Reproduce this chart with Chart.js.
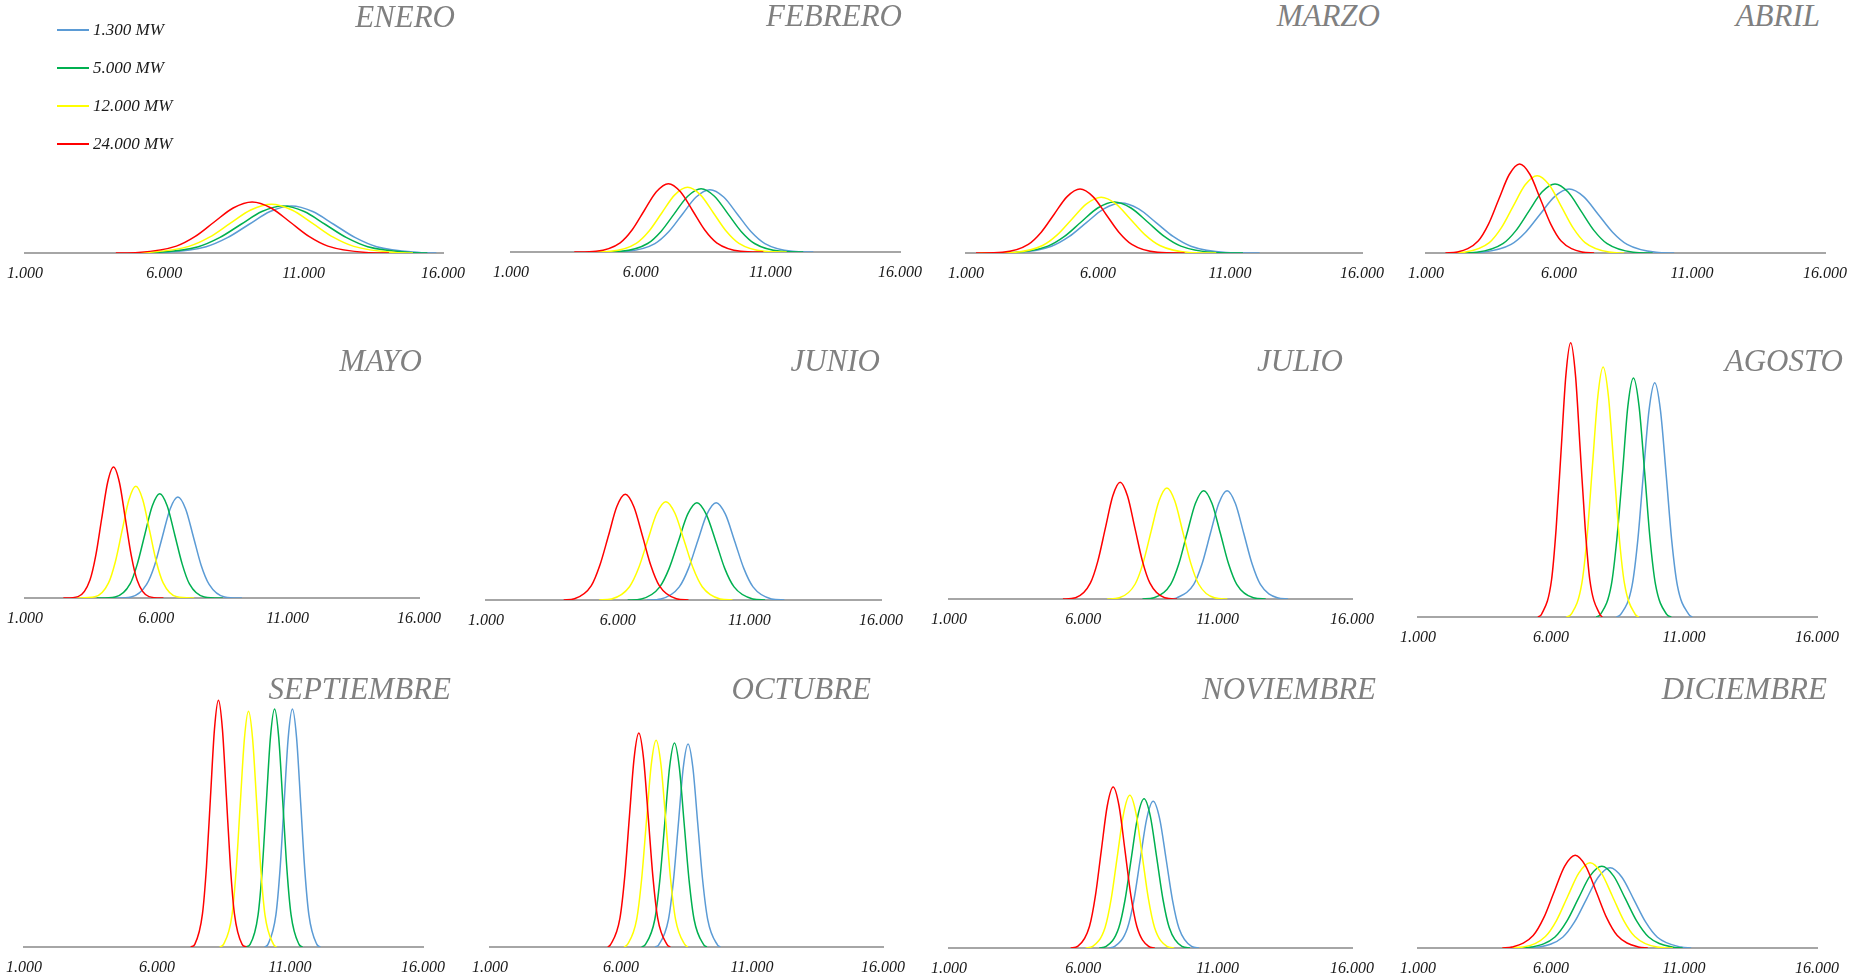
<!DOCTYPE html>
<html>
<head>
<meta charset="utf-8">
<script src="https://cdn.jsdelivr.net/npm/chart.js@4.4.1/dist/chart.umd.min.js"></script>
<style>
  html, body { margin: 0; padding: 0; overflow: hidden; background: #fff; }
  #wrap { position: relative; width: 1849px; height: 978px; }
  #wrap canvas { position: absolute; }
  .title { position: absolute; font: italic 31px 'Liberation Serif', serif; color: #808080; line-height: 1; white-space: nowrap; }
  .legend { position: absolute; left: 57px; font: italic 17px 'Liberation Serif', serif; color: #1a1a1a; display: flex; align-items: center; height: 20px; white-space: nowrap; }
  .legend span { display: inline-block; width: 32px; height: 2px; margin-right: 4px; }
</style>
</head>
<body>
<div id="wrap"></div>
<script>
const seriesNames = ['1.300 MW', '5.000 MW', '12.000 MW', '24.000 MW'];
const seriesColors = ['#5b9bd5', '#00b050', '#ffff00', '#ff0000'];
const monthNames = ['ENERO', 'FEBRERO', 'MARZO', 'ABRIL', 'MAYO', 'JUNIO', 'JULIO', 'AGOSTO',
                    'SEPTIEMBRE', 'OCTUBRE', 'NOVIEMBRE', 'DICIEMBRE'];
const xTicks = [1000, 6000, 11000, 16000];
const xTickLabels = ['1.000', '6.000', '11.000', '16.000'];

const enero = [
  [[5120,0],[5970,0.5],[7500,6.3],[8265,15.3],[9030,28.5],[9795,41.5],[10560,47],[11325,41.5],[12090,28.5],[12855,15.3],[13620,6.3],[15150,0.5],[15760,0]],
  [[5000,0],[5700,0.5],[7220,6.3],[7980,15.3],[8740,28.5],[9500,41.5],[10260,47],[11020,41.5],[11780,28.5],[12540,15.3],[13300,6.3],[14820,0.5],[15440,0]],
  [[4880,0],[5400,0.5],[6880,6.6],[7620,15.8],[8360,29.6],[9100,43],[9840,48.7],[10580,43],[11320,29.6],[12060,15.8],[12800,6.6],[14280,0.5],[14920,0]],
  [[4260,0],[5070,0.6],[6430,6.9],[7110,16.6],[7790,31],[8470,45],[9150,51],[9830,45],[10510,31],[11190,16.6],[11870,6.9],[13230,0.6],[14060,0]]
];
const febrero = [
  [[4750,0],[5490,0.7],[6550,8.4],[7080,20.2],[7610,37.8],[8140,55],[8670,62.3],[9200,55],[9730,37.8],[10260,20.2],[10790,8.4],[11850,0.7],[12660,0]],
  [[4370,0],[5240,0.7],[6270,8.5],[6785,20.6],[7300,38.4],[7815,55.8],[8330,63.3],[8845,55.8],[9360,38.4],[9875,20.6],[10390,8.5],[11420,0.7],[12270,0]],
  [[3980,0],[4840,0.7],[5830,8.7],[6325,21],[6820,39.3],[7315,57.1],[7810,64.7],[8305,57.1],[8800,39.3],[9295,21],[9790,8.7],[10780,0.7],[11630,0]],
  [[3440,0],[4280,0.8],[5210,9.2],[5675,22.2],[6140,41.5],[6605,60.2],[7070,68.3],[7535,60.2],[8000,41.5],[8465,22.2],[8930,9.2],[9860,0.8],[10730,0]]
];
const marzo = [
  [[1630,0],[2920,0.6],[4240,6.8],[4900,16.3],[5560,30.4],[6220,44.1],[6880,50],[7540,44.1],[8200,30.4],[8860,16.3],[9520,6.8],[10840,0.6],[12120,0]],
  [[1500,0],[2840,0.6],[4100,6.9],[4730,16.6],[5360,31],[5990,45],[6620,51],[7250,45],[7880,31],[8510,16.6],[9140,6.9],[10400,0.6],[11490,0]],
  [[1500,0],[2790,0.6],[3900,7.5],[4455,18.1],[5010,33.8],[5565,49.1],[6120,55.7],[6675,49.1],[7230,33.8],[7785,18.1],[8340,7.5],[9450,0.6],[10480,0]],
  [[1380,0],[2380,0.7],[3360,8.6],[3850,20.8],[4340,38.8],[4830,56.4],[5320,64],[5810,56.4],[6300,38.8],[6790,20.8],[7280,8.6],[8260,0.7],[9280,0]]
];
const abril = [
  [[2480,0],[3110,0.7],[4200,8.6],[4745,20.8],[5290,38.8],[5835,56.4],[6380,64],[6925,56.4],[7470,38.8],[8015,20.8],[8560,8.6],[9650,0.7],[10330,0]],
  [[2170,0],[2910,0.8],[3890,9.3],[4380,22.4],[4870,41.9],[5360,60.9],[5850,69],[6340,60.9],[6830,41.9],[7320,22.4],[7810,9.3],[8790,0.8],[9520,0]],
  [[1920,0],[2480,0.9],[3380,10.4],[3830,25.1],[4280,46.9],[4730,68.2],[5180,77.3],[5630,68.2],[6080,46.9],[6530,25.1],[6980,10.4],[7880,0.9],[8450,0]],
  [[1730,0],[2180,1],[2960,12],[3350,28.9],[3740,54],[4130,78.5],[4520,89],[4910,78.5],[5300,54],[5690,28.9],[6080,12],[6860,1],[7320,0]]
];
const mayo = [
  [[4370,0],[5040,1.1],[5630,13.6],[5935,32.8],[6230,61.3],[6525,89.1],[6820,101],[7115,89.1],[7410,61.3],[7705,32.8],[8010,13.6],[8600,1.1],[9260,0]],
  [[3730,0],[4430,1.1],[5000,14.1],[5275,33.9],[5560,63.3],[5845,92],[6130,104.3],[6415,92],[6700,63.3],[6985,33.9],[7260,14.1],[7830,1.1],[8530,0]],
  [[2990,0],[3660,1.2],[4180,15.1],[4440,36.3],[4700,67.8],[4960,98.5],[5220,111.7],[5480,98.5],[5740,67.8],[6000,36.3],[6260,15.1],[6780,1.2],[7440,0]],
  [[2460,0],[3020,1.4],[3470,17.7],[3695,42.6],[3920,79.5],[4145,115.5],[4370,131],[4595,115.5],[4820,79.5],[5045,42.6],[5270,17.7],[5720,1.4],[6270,0]]
];
const junio = [
  [[7110,0],[7640,1.1],[8340,13.1],[8690,31.6],[9040,59.1],[9390,85.8],[9740,97.3],[10090,85.8],[10440,59.1],[10790,31.6],[11140,13.1],[11840,1.1],[12330,0]],
  [[6380,0],[6900,1.1],[7600,13.1],[7955,31.6],[8310,59.1],[8660,85.8],[9010,97.3],[9360,85.8],[9720,59.1],[10065,31.6],[10420,13.1],[11130,1.1],[11600,0]],
  [[5300,0],[5770,1.1],[6450,13.3],[6795,31.9],[7140,59.7],[7485,86.7],[7830,98.3],[8175,86.7],[8520,59.7],[8865,31.9],[9210,13.3],[9890,1.1],[10360,0]],
  [[3950,0],[4360,1.2],[5000,14.3],[5320,34.4],[5650,64.2],[5965,93.2],[6290,105.7],[6615,93.2],[6940,64.2],[7260,34.4],[7580,14.3],[8230,1.2],[8690,0]]
];
const julio = [
  [[9280,0],[9480,1.2],[10110,14.6],[10420,35.2],[10730,65.7],[11040,95.5],[11350,108.3],[11660,95.5],[11970,65.7],[12280,35.2],[12590,14.6],[13220,1.2],[13620,0]],
  [[8200,0],[8630,1.2],[9250,14.6],[9555,35.2],[9860,65.7],[10170,95.5],[10480,108.3],[10790,95.5],[11100,65.7],[11405,35.2],[11710,14.6],[12330,1.2],[12790,0]],
  [[6890,0],[7340,1.2],[7930,15],[8225,36.1],[8520,67.4],[8815,97.9],[9110,111],[9405,97.9],[9700,67.4],[9995,36.1],[10290,15],[10880,1.2],[11360,0]],
  [[5240,0],[5710,1.3],[6260,15.8],[6540,37.9],[6820,70.8],[7095,102.9],[7370,116.7],[7645,102.9],[7920,70.8],[8200,37.9],[8480,15.8],[9030,1.3],[9490,0]]
];
const agosto = [
  [[8460,0],[8620,2.6],[9050,31.6],[9260,76.1],[9470,142.2],[9685,206.7],[9900,234.3],[10115,206.7],[10330,142.2],[10540,76.1],[10750,31.6],[11180,2.6],[11310,0]],
  [[7700,0],[7860,2.6],[8270,32.3],[8475,77.7],[8690,145.1],[8890,210.8],[9100,239],[9310,210.8],[9520,145.1],[9725,77.7],[9930,32.3],[10350,2.6],[10520,0]],
  [[6580,0],[6760,2.8],[7160,33.8],[7360,81.3],[7560,151.8],[7760,220.5],[7960,250],[8160,220.5],[8360,151.8],[8560,81.3],[8760,33.8],[9160,2.8],[9300,0]],
  [[5510,0],[5650,3],[6020,37],[6195,89.1],[6380,166.5],[6560,241.9],[6740,274.3],[6920,241.9],[7100,166.5],[7285,89.1],[7460,37],[7830,3],[7930,0]]
];
const septiembre = [
  [[10050,0],[10170,2.6],[10470,32.1],[10625,77.4],[10780,144.5],[10935,209.9],[11090,238],[11245,209.9],[11400,144.5],[11555,77.4],[11710,32.1],[12010,2.6],[12140,0]],
  [[9340,0],[9500,2.6],[9800,32.1],[9955,77.4],[10110,144.5],[10265,209.9],[10420,238],[10575,209.9],[10730,144.5],[10885,77.4],[11040,32.1],[11340,2.6],[11470,0]],
  [[8360,0],[8500,2.6],[8820,31.8],[8975,76.6],[9130,143.1],[9285,207.9],[9440,235.7],[9595,207.9],[9750,143.1],[9905,76.6],[10060,31.8],[10380,2.6],[10490,0]],
  [[7270,0],[7420,2.7],[7710,33.3],[7860,80.2],[8010,149.7],[8160,217.6],[8310,246.7],[8460,217.6],[8610,149.7],[8760,80.2],[8910,33.3],[9200,2.7],[9360,0]]
];
const octubre = [
  [[7300,0],[7440,2.2],[7810,27.4],[8000,66],[8190,123.2],[8375,179],[8560,203],[8745,179],[8930,123.2],[9120,66],[9310,27.4],[9680,2.2],[9790,0]],
  [[6790,0],[6920,2.2],[7290,27.5],[7480,66.3],[7670,123.8],[7855,179.9],[8040,204],[8225,179.9],[8410,123.8],[8600,66.3],[8790,27.5],[9160,2.2],[9280,0]],
  [[6120,0],[6240,2.3],[6600,27.9],[6785,67.2],[6970,125.5],[7155,182.3],[7340,206.7],[7525,182.3],[7710,125.5],[7895,67.2],[8080,27.9],[8440,2.3],[8550,0]],
  [[5500,0],[5600,2.4],[5960,28.9],[6140,69.6],[6320,129.9],[6500,188.7],[6680,214],[6860,188.7],[7040,129.9],[7220,69.6],[7400,28.9],[7760,2.4],[7880,0]]
];
const noviembre = [
  [[6940,0],[7170,1.6],[7640,19.8],[7880,47.7],[8120,89],[8360,129.4],[8600,146.7],[8840,129.4],[9080,89],[9320,47.7],[9560,19.8],[10030,1.6],[10310,0]],
  [[6590,0],[6850,1.6],[7320,20.2],[7555,48.5],[7790,90.6],[8025,131.7],[8260,149.3],[8495,131.7],[8730,90.6],[8965,48.5],[9200,20.2],[9670,1.6],[9970,0]],
  [[6090,0],[6350,1.7],[6810,20.6],[7040,49.6],[7270,92.7],[7500,134.7],[7730,152.7],[7960,134.7],[8190,92.7],[8420,49.6],[8650,20.6],[9110,1.7],[9380,0]],
  [[5530,0],[5800,1.8],[6230,21.7],[6450,52.3],[6670,97.7],[6890,142],[7110,161],[7330,142],[7550,97.7],[7770,52.3],[7990,21.7],[8420,1.8],[8660,0]]
];
const diciembre = [
  [[5070,0],[5550,0.9],[6440,10.8],[6885,26.1],[7330,48.7],[7775,70.8],[8220,80.3],[8665,70.8],[9110,48.7],[9555,26.1],[10000,10.8],[10890,0.9],[11270,0]],
  [[4820,0],[5270,0.9],[6150,11],[6590,26.6],[7030,49.6],[7470,72.1],[7910,81.7],[8350,72.1],[8790,49.6],[9230,26.6],[9670,11],[10550,0.9],[10950,0]],
  [[4190,0],[4950,0.9],[5790,11.5],[6210,27.7],[6630,51.8],[7050,75.2],[7470,85.3],[7890,75.2],[8310,51.8],[8730,27.7],[9150,11.5],[9990,0.9],[10580,0]],
  [[4170,0],[4540,1],[5330,12.5],[5725,30.1],[6120,56.3],[6515,81.8],[6910,92.7],[7305,81.8],[7700,56.3],[8095,30.1],[8490,12.5],[9280,1],[9640,0]]
];

const months = [enero, febrero, marzo, abril, mayo, junio, julio, agosto,
                septiembre, octubre, noviembre, diciembre];

// where each small chart sits on the page: axis start/end, baseline, plot height, title box
const panels = [
  {x0: 25,   x1: 443,  base: 253, h: 220, titleRight: 455,  titleTop: 1},
  {x0: 511,  x1: 900,  base: 252, h: 220, titleRight: 902,  titleTop: 0},
  {x0: 966,  x1: 1362, base: 253, h: 220, titleRight: 1380, titleTop: 0},
  {x0: 1426, x1: 1825, base: 253, h: 220, titleRight: 1820, titleTop: 0},
  {x0: 25,   x1: 419,  base: 598, h: 240, titleRight: 422,  titleTop: 345},
  {x0: 486,  x1: 881,  base: 600, h: 240, titleRight: 880,  titleTop: 345},
  {x0: 949,  x1: 1352, base: 599, h: 240, titleRight: 1343, titleTop: 345},
  {x0: 1418, x1: 1817, base: 617, h: 280, titleRight: 1843, titleTop: 345},
  {x0: 24,   x1: 423,  base: 947, h: 260, titleRight: 451,  titleTop: 673},
  {x0: 490,  x1: 883,  base: 947, h: 260, titleRight: 871,  titleTop: 673},
  {x0: 949,  x1: 1352, base: 948, h: 260, titleRight: 1376, titleTop: 673},
  {x0: 1418, x1: 1817, base: 948, h: 260, titleRight: 1827, titleTop: 673}
];

const wrap = document.getElementById('wrap');
const PAD = 35;      // room each side for the edge tick labels
const BOTTOM = 45;   // room under the baseline for the tick labels
const tickFont = {family: "'Liberation Serif', serif", size: 16, style: 'italic'};

months.forEach((curves, m) => {
  const p = panels[m];
  const cv = document.createElement('canvas');
  cv.width = p.x1 - p.x0 + 2 * PAD;
  cv.height = p.h + BOTTOM;
  cv.style.left = (p.x0 - PAD) + 'px';
  cv.style.top = (p.base - p.h) + 'px';
  wrap.appendChild(cv);

  new Chart(cv, {
    type: 'line',
    data: {
      datasets: curves.map((pts, i) => ({
        label: seriesNames[i],
        data: pts.map(([x, y]) => ({x, y})),
        borderColor: seriesColors[i],
        borderWidth: 1.5,
        pointRadius: 0,
        fill: false,
        cubicInterpolationMode: 'monotone',
        order: curves.length - i
      }))
    },
    options: {
      responsive: false,
      animation: false,
      events: [],
      layout: {padding: {left: PAD, right: PAD, top: 0, bottom: BOTTOM - 41.2}},
      plugins: {legend: {display: false}, tooltip: {enabled: false}},
      scales: {
        x: {
          type: 'linear',
          min: xTicks[0],
          max: xTicks[xTicks.length - 1],
          afterBuildTicks: s => { s.ticks = xTicks.map(v => ({value: v})); },
          ticks: {
            callback: (v, i) => xTickLabels[i],
            font: tickFont,
            color: '#1a1a1a',
            padding: 11,
            maxRotation: 0,
            autoSkip: false
          },
          grid: {display: false, drawTicks: false},
          border: {display: true, color: '#a6a6a6', width: 2}
        },
        y: {display: false, min: 0, max: p.h}
      }
    }
  });

  const t = document.createElement('div');
  t.className = 'title';
  t.textContent = monthNames[m];
  t.style.right = (1849 - p.titleRight) + 'px';
  t.style.top = p.titleTop + 'px';
  wrap.appendChild(t);
});

// legend, top-left over the first chart
seriesNames.forEach((name, i) => {
  const row = document.createElement('div');
  row.className = 'legend';
  row.style.top = (20 + i * 38) + 'px';
  const sw = document.createElement('span');
  sw.style.background = seriesColors[i];
  row.appendChild(sw);
  row.appendChild(document.createTextNode(name));
  wrap.appendChild(row);
});
</script>
</body>
</html>
